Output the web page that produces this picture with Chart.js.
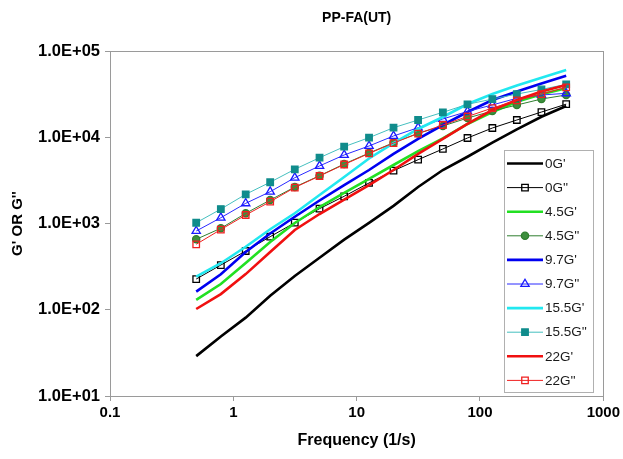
<!DOCTYPE html>
<html>
<head>
<meta charset="utf-8">
<script src="https://cdn.jsdelivr.net/npm/chart.js@4.4.1/dist/chart.umd.min.js"></script>
<style>
  html, body { margin: 0; padding: 0; background: #ffffff; }
  #wrap { width: 623px; height: 459px; }
</style>
</head>
<body>
<div id="wrap"><canvas id="c" width="623" height="459"></canvas></div>
<script>
// ---- data ----
const chartTitle = 'PP-FA(UT)';
const xTitle = 'Frequency (1/s)';
const yTitle = "G' OR G''";
const freq = [0.5, 0.792, 1.26, 1.99, 3.15, 5, 7.92, 12.6, 19.9, 31.5, 50, 79.2, 126, 199, 315, 500];
const seriesNames = ["0G'", "0G''", "4.5G'", "4.5G''", "9.7G'", "9.7G''", "15.5G'", "15.5G''", "22G'", "22G''"];
const g0p   = [29, 49, 81, 145, 246, 400, 650, 1018, 1600, 2650, 4170, 5940, 8650, 12350, 17300, 23000];
const g0pp  = [227, 330, 480, 703, 1021, 1486, 2067, 2951, 4096, 5492, 7315, 9800, 12800, 15850, 19600, 24200];
const g45p  = [130, 199, 349, 611, 1014, 1553, 2258, 3284, 4767, 6890, 9680, 14260, 19630, 25800, 31500, 36900];
const g45pp = [656, 880, 1312, 1871, 2648, 3580, 4895, 6565, 8650, 11120, 13500, 16700, 20150, 23650, 27750, 30900];
const g97p  = [162, 258, 468, 766, 1199, 1849, 2793, 4170, 6400, 9550, 13870, 19630, 27000, 33900, 42000, 51800];
const g97pp = [818, 1167, 1713, 2337, 3400, 4650, 6230, 7920, 10340, 12900, 16300, 19900, 23700, 28300, 30900, 32300];
const g155p = [242, 346, 538, 857, 1313, 2138, 3459, 5675, 8570, 12470, 17180, 24300, 31700, 39800, 49000, 60300];
const g155pp= [1020, 1470, 2180, 3010, 4250, 5790, 7770, 9890, 12900, 15850, 19460, 24100, 27700, 31700, 35800, 41100];
const g22p  = [102, 152, 259, 467, 841, 1288, 1897, 2793, 4170, 6400, 9550, 14260, 20700, 27000, 33900, 40400];
const g22pp = [574, 851, 1255, 1789, 2612, 3555, 4831, 6490, 8570, 11040, 13870, 17400, 21800, 26700, 31700, 37800];
const xTickValues = [0.1, 1, 10, 100, 1000];
const xTickLabels = ['0.1', '1', '10', '100', '1000'];
const yTickValues = [10, 100, 1000, 10000, 100000];
const yTickLabels = ['1.0E+01', '1.0E+02', '1.0E+03', '1.0E+04', '1.0E+05'];

// ---- build chart ----
const FONT = "'Liberation Sans', Arial, Helvetica, sans-serif";
function pts(arr) { return arr.map((v, i) => ({ x: freq[i], y: v })); }
const NONE = 'rgba(0,0,0,0)';

const styles = [
  { c: '#000000', w: 2.6 },
  { c: '#000000', w: 1, ps: 'rect', r: 4.6, bg: NONE, pb: '#000000' },
  { c: '#22e022', w: 2.6 },
  { c: '#2f7f2f', w: 1, ps: 'circle', r: 3.6, bg: '#3d8f3d', pb: '#2f7f2f' },
  { c: '#0000f0', w: 2.6 },
  { c: '#2a2aff', w: 1, ps: 'triangle', r: 4.8, bg: NONE, pb: '#1a1aff' },
  { c: '#22e8f0', w: 2.6 },
  { c: '#45bfbf', w: 1, ps: 'rect', r: 4.6, bg: '#108c8c', pb: '#108c8c' },
  { c: '#f01010', w: 2.6 },
  { c: '#f02020', w: 1, ps: 'rect', r: 4.6, bg: NONE, pb: '#f02020' }
];
const seriesData = [g0p, g0pp, g45p, g45pp, g97p, g97pp, g155p, g155pp, g22p, g22pp];

const datasets = seriesData.map((d, i) => {
  const s = styles[i];
  return {
    label: seriesNames[i],
    data: pts(d),
    borderColor: s.c,
    borderWidth: s.w,
    backgroundColor: s.bg || s.c,
    pointStyle: s.ps || 'circle',
    pointRadius: s.ps ? s.r : 0,
    pointHoverRadius: s.ps ? s.r : 0,
    pointBackgroundColor: s.bg || s.c,
    pointBorderColor: s.pb || s.c,
    pointBorderWidth: 1.3,
    tension: 0,
    fill: false,
    order: 20 - i
  };
});

function drawMarker(ctx, style, r, x, y, bg, bc) {
  ctx.save();
  ctx.fillStyle = bg; ctx.strokeStyle = bc; ctx.lineWidth = 1.3;
  ctx.beginPath();
  if (style === 'rect') {
    const s = r * Math.SQRT1_2;
    ctx.rect(x - s, y - s, 2 * s, 2 * s);
  } else if (style === 'circle') {
    ctx.arc(x, y, r, 0, Math.PI * 2);
  } else if (style === 'triangle') {
    const a = -Math.PI / 2;
    for (let k = 0; k < 3; k++) {
      const ang = a + k * 2 * Math.PI / 3;
      const px = x + r * Math.cos(ang), py = y + r * Math.sin(ang);
      if (k === 0) ctx.moveTo(px, py); else ctx.lineTo(px, py);
    }
    ctx.closePath();
  }
  ctx.fill(); ctx.stroke();
  ctx.restore();
}

const framePlugin = {
  id: 'frame',
  afterDraw(chart) {
    const { ctx, chartArea: a } = chart;
    ctx.save();
    // plot frame
    ctx.strokeStyle = '#9a9a9a';
    ctx.lineWidth = 1;
    ctx.strokeRect(Math.round(a.left) + 0.5, Math.round(a.top) + 0.5,
                   Math.round(a.right - a.left), Math.round(a.bottom - a.top));
    // chart title centred over the plot area
    ctx.fillStyle = '#000';
    ctx.font = 'bold 14px ' + FONT;
    ctx.textAlign = 'center';
    ctx.textBaseline = 'middle';
    ctx.fillText(chartTitle, (a.left + a.right) / 2, 18);

    // legend box inside the plot area
    const lx = 504, ly = 150, lw = 89, lh = 242;
    ctx.fillStyle = '#ffffff';
    ctx.fillRect(lx, ly, lw, lh);
    ctx.strokeStyle = '#b0b0b0';
    ctx.strokeRect(lx + 0.5, ly + 0.5, lw, lh);
    chart.data.datasets.forEach((ds, i) => {
      const s = styles[i];
      const y = ly + 13.5 + i * 24.1;
      ctx.strokeStyle = s.c;
      ctx.lineWidth = s.w;
      ctx.beginPath();
      ctx.moveTo(lx + 3, y);
      ctx.lineTo(lx + 39, y);
      ctx.stroke();
      if (s.ps) drawMarker(ctx, s.ps, s.r, lx + 21, y, s.bg, s.pb);
      ctx.fillStyle = '#1a1a1a';
      ctx.font = '13.5px ' + FONT;
      ctx.textAlign = 'left';
      ctx.textBaseline = 'middle';
      ctx.fillText(ds.label, lx + 41, y + 0.5);
    });
    ctx.restore();
  }
};

new Chart(document.getElementById('c'), {
  type: 'line',
  data: { datasets },
  plugins: [framePlugin],
  options: {
    responsive: false,
    devicePixelRatio: 1,
    animation: false,
    layout: { padding: { left: 0, right: 18, top: 51, bottom: 0 } },
    plugins: {
      legend: { display: false },
      title: { display: false },
      tooltip: { enabled: false }
    },
    scales: {
      x: {
        type: 'logarithmic',
        min: 0.1, max: 1000,
        afterBuildTicks(scale) { scale.ticks = xTickValues.map(v => ({ value: v })); },
        afterFit(scale) { scale.height = 63; },
        ticks: {
          autoSkip: false, maxRotation: 0, padding: 3, color: '#000',
          font: { family: FONT, size: 15, weight: 'bold' },
          callback: (v, i) => xTickLabels[i]
        },
        grid: { display: true, drawOnChartArea: false, drawTicks: true, tickLength: 5, color: '#9a9a9a' },
        border: { display: true, color: '#9a9a9a', width: 1 },
        title: {
          display: true, text: xTitle, color: '#000',
          font: { family: FONT, size: 16, weight: 'bold' },
          padding: { top: 0, bottom: 9 }
        }
      },
      y: {
        type: 'logarithmic',
        min: 10, max: 100000,
        afterBuildTicks(scale) { scale.ticks = yTickValues.map(v => ({ value: v })); },
        afterFit(scale) { scale.width = 110; },
        ticks: {
          autoSkip: false, padding: 5, color: '#000',
          font: { family: FONT, size: 16.5, weight: 'bold' },
          callback: (v, i) => yTickLabels[i]
        },
        grid: { display: true, drawOnChartArea: false, drawTicks: true, tickLength: 5, color: '#9a9a9a' },
        border: { display: true, color: '#9a9a9a', width: 1 },
        title: {
          display: true, text: yTitle, color: '#000',
          font: { family: FONT, size: 15, weight: 'bold' },
          padding: { top: 9, bottom: 0 }
        }
      }
    }
  }
});
</script>
</body>
</html>
